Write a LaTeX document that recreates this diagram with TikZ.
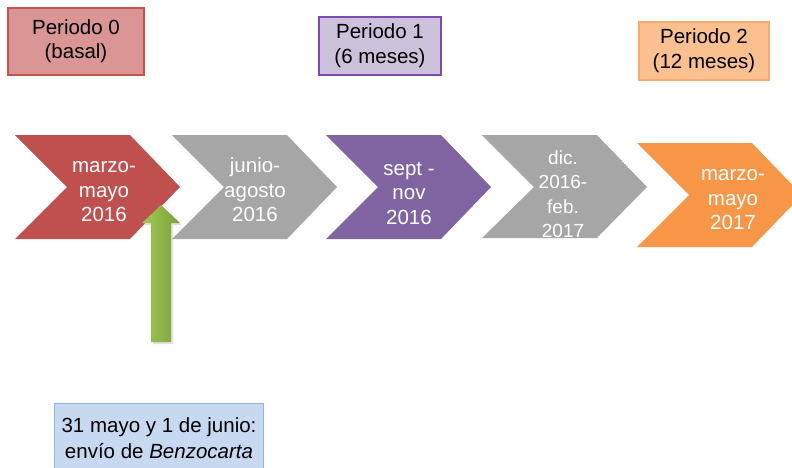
\documentclass[tikz,border=0pt]{standalone}
\usepackage{fontspec}
\setmainfont{Liberation Sans}
\definecolor{redC}{RGB}{192,80,77}
\definecolor{greyC}{RGB}{166,166,166}
\definecolor{purpleC}{RGB}{128,100,162}
\definecolor{orangeC}{RGB}{247,150,70}
\definecolor{box0fill}{RGB}{217,150,148}
\definecolor{box0line}{RGB}{200,80,77}
\definecolor{box1fill}{RGB}{204,193,218}
\definecolor{box1line}{RGB}{125,75,175}
\definecolor{box2fill}{RGB}{250,192,144}
\definecolor{box2line}{RGB}{249,170,110}
\definecolor{bluefill}{RGB}{198,217,241}
\definecolor{blueline}{RGB}{149,179,215}
\definecolor{greenL}{RGB}{160,200,80}
\definecolor{greenD}{RGB}{120,162,60}
\begin{document}
\begin{tikzpicture}[x=1pt,y=-1pt,
  chev/.pic={\fill[pic actions] (0,0) -- (115,0) -- (165,52) -- (115,104) -- (0,104) -- (52,52) -- cycle;},
  chevtext/.style={text=white,align=center,inner sep=0pt,font=\fontsize{20.5}{24.5}\selectfont},
  periodbox/.style={draw,line width=1.4pt,align=center,inner sep=0pt,font=\fontsize{20.5}{24.5}\selectfont},
  notetext/.style={align=center,inner sep=0pt,font=\fontsize{20.5}{26}\selectfont}
]
\useasboundingbox (0,0) rectangle (792,467);
\fill[white] (0,0) rectangle (792,467);

% period boxes
\node[periodbox,fill=box0fill,draw=box0line,minimum width=136pt,minimum height=67pt] (p0) at (76,41.5) {\strut Periodo 0\\(basal)\strut};
\node[periodbox,fill=box1fill,draw=box1line,minimum width=122pt,minimum height=58pt] (p1) at (380,46) {\strut Periodo 1\\(6 meses)\strut};
\node[periodbox,fill=box2fill,draw=box2line,minimum width=130pt,minimum height=58pt] (p2) at (704,51) {\strut Periodo 2\\(12 meses)\strut};

% chevrons
\pic[fill=redC] at (15,135) {chev};
\pic[fill=greyC] at (172,135) {chev};
\pic[fill=purpleC] at (326,135) {chev};
\begin{scope}
  \clip (482,135) -- (597,135) -- (647,187) -- (597,238) -- (482,238) -- (534,187) -- cycle;
  \fill[greyC] (482,135) -- (597,135) -- (647,187) -- (597,238) -- (482,238) -- (534,187) -- cycle;
  \node[chevtext,font=\fontsize{19}{24.5}\selectfont] (c4) at (563,195.9) {\strut dic.\\2016-\\feb.\\2017\strut};
\end{scope}
\pic[fill=orangeC] at (637,143) {chev};

\node[chevtext] (c1) at (104,192.3) {\strut marzo-\\mayo\\2016\strut};
\node[chevtext] (c2) at (255,192.3) {\strut junio-\\agosto\\2016\strut};
\node[chevtext] (c3) at (409,194.6) {\strut sept -\\nov\\2016\strut};
\node[chevtext] (c5) at (733,200.1) {\strut marzo-\\mayo\\2017\strut};

% green arrow
\fill[black,opacity=0.12] (153,344) -- (173,344) -- (173,225) -- (182,225) -- (163,207) -- (144,225) -- (153,225) -- cycle;
\shade[left color=greenL,right color=greenD] (151,342) -- (171,342) -- (171,223) -- (180,223) -- (161,205) -- (142,223) -- (151,223) -- cycle;

% note
\node[draw=blueline,fill=bluefill,line width=1.2pt,minimum width=209pt,minimum height=90pt,anchor=north west,inner sep=0pt] (nb) at (54,403) {};
\node[notetext] (nt) at (159,439.8) {\strut 31 mayo y 1 de junio:\\envío de \textit{Benzocarta}\strut};
\end{tikzpicture}
\end{document}
